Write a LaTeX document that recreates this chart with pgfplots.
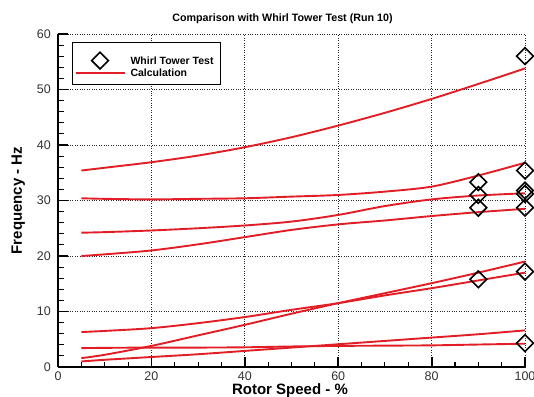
\documentclass[border=0pt]{standalone}
\usepackage{fontspec}
\setmainfont{Liberation Sans}
\usepackage{pgfplots}
\pgfplotsset{compat=1.18}
\definecolor{calcred}{RGB}{225,30,38}
\tikzset{calcline/.style={draw=calcred, line width=1.9pt}}

\begin{document}
\begin{tikzpicture}
\begin{axis}[
  name=ax,
  scale only axis, width=467pt, height=333pt,
  xmin=0, xmax=100, ymin=0, ymax=60,
  xtick={0,20,...,100}, ytick={0,10,...,60},
  minor x tick num=3, minor y tick num=4,
  axis lines*=left,
  axis line style={line width=2pt},
  tick align=inside,
  major tick length=10pt, minor tick length=5.5pt,
  major tick style={line width=1.8pt, black},
  minor tick style={line width=1.1pt, black},
  grid=major,
  major grid style={dotted, line width=0.8pt, black!85},
  /pgf/number format/assume math mode=true,
  ticklabel style={font=\fontsize{12.5}{14}\selectfont, text=black!80},
  xticklabel style={anchor=north, inner sep=0pt, yshift=-5pt},
  yticklabel style={anchor=east, inner sep=0pt, xshift=-7pt},
  title={Comparison with Whirl Tower Test (Run 10)},
  every axis title/.style={at={(axis description cs:0.4807,1.0375)}, anchor=base,
    inner sep=0pt, font=\fontsize{10.7}{12}\selectfont\bfseries},
  xlabel={Rotor Speed - \%},
  xlabel style={at={(axis description cs:0.4968,-0.0811)}, anchor=base,
    inner sep=0pt, font=\fontsize{15}{17}\selectfont\bfseries},
  ylabel={Frequency - Hz},
  ylabel style={at={(axis description cs:-0.0771,0.5)}, anchor=base,
    inner sep=0pt, font=\fontsize{15}{17}\selectfont\bfseries},
  legend image code/.code={\draw[mark repeat=2,mark phase=2,#1]
    plot coordinates {(0pt,3.5pt) (24.5pt,3.5pt) (49pt,3.5pt)};},
  reverse legend,
  legend style={at={(rel axis cs:0.030,0.976)}, anchor=north west,
    draw=black, line width=1.2pt, fill=white,
    font=\fontsize{10.5}{12}\selectfont\bfseries,
    inner xsep=2pt, inner ysep=2.5pt, row sep=-13pt,
    nodes={inner xsep=5pt, inner ysep=0pt, text height=19pt, text depth=6pt},
    cells={anchor=base west}},
]

% calculated frequency branches
\addplot[draw=calcred, line width=1.9pt, smooth, no marks] coordinates {(5,35.4) (10,35.9) (20,36.9) (30,38.1) (40,39.6) (50,41.4) (60,43.5) (70,45.8) (80,48.3) (90,51.0) (100,53.8)};
\addlegendentry{Calculation}
\addplot[calcline, smooth, no marks, forget plot] coordinates {(5,30.4) (10,30.3) (20,30.2) (30,30.3) (40,30.4) (50,30.7) (60,31.0) (70,31.6) (80,32.5) (90,34.5) (100,36.8)};
\addplot[calcline, smooth, no marks, forget plot] coordinates {(5,24.2) (10,24.3) (20,24.6) (30,25.0) (40,25.5) (50,26.2) (60,27.4) (70,29.0) (80,30.2) (90,30.9) (100,31.3)};
\addplot[calcline, smooth, no marks, forget plot] coordinates {(5,20.0) (10,20.3) (20,21.0) (30,22.1) (40,23.4) (50,24.7) (60,25.7) (70,26.4) (80,27.2) (90,27.9) (100,28.5)};
\addplot[calcline, smooth, no marks, forget plot] coordinates {(5,6.3) (10,6.5) (20,7.0) (30,7.9) (40,9.0) (50,10.3) (60,11.5) (70,12.9) (80,14.2) (90,15.6) (100,17.0)};
\addplot[calcline, smooth, no marks, forget plot] coordinates {(5,1.6) (10,2.2) (20,3.8) (30,5.7) (40,7.6) (50,9.6) (60,11.5) (70,13.3) (80,15.1) (90,17.0) (100,19.0)};
\addplot[calcline, smooth, no marks, forget plot] coordinates {(5,3.4) (10,3.45) (20,3.5) (30,3.5) (40,3.55) (50,3.7) (60,3.8) (70,3.85) (80,3.9) (90,4.05) (100,4.2)};
\addplot[calcline, smooth, no marks, forget plot] coordinates {(5,1.0) (10,1.3) (20,1.8) (30,2.3) (40,2.9) (50,3.5) (60,4.1) (70,4.7) (80,5.3) (90,5.9) (100,6.6)};

% whirl tower measurements
\addplot[only marks, mark=square, mark size=5.9pt,
  mark options={rotate=45, draw=black, fill=none, line width=1.6pt}]
  coordinates {(90,33.3) (90,31.0) (90,28.7) (90,15.8)
               (100,56.0) (100,35.4) (100,31.8) (100,31.2) (100,28.7) (100,17.2) (100,4.3)};
\addlegendentry{Whirl Tower Test}
\end{axis}
\pgfresetboundingbox
\path[use as bounding box] ([shift={(-58pt,-29pt)}]ax.south west)
  rectangle ([shift={(476pt,367pt)}]ax.south west);
\end{tikzpicture}
\end{document}
